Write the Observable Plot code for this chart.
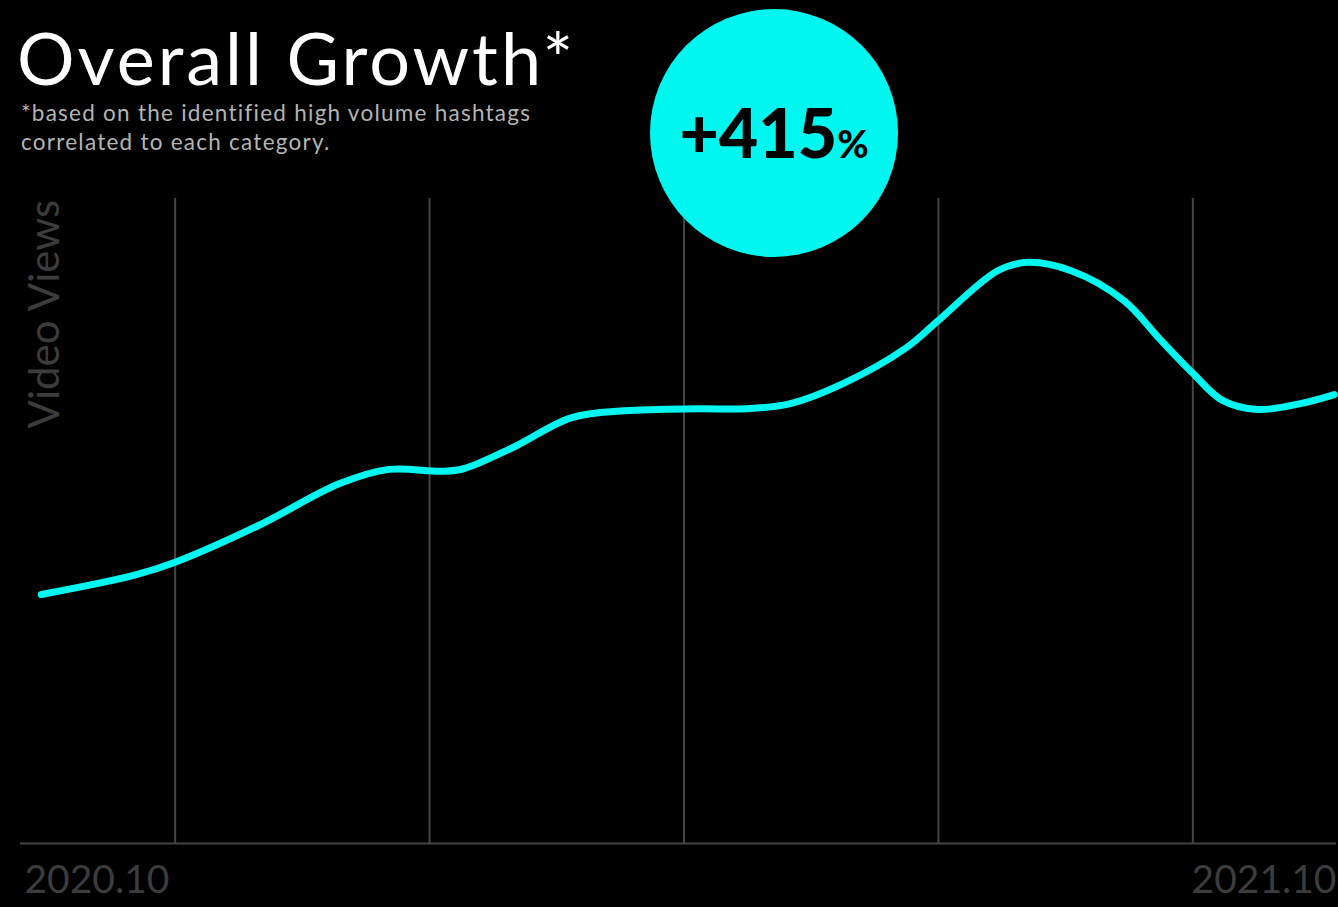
<!DOCTYPE html>
<html>
<head>
<meta charset="utf-8">
<script src="https://cdn.jsdelivr.net/npm/d3@7"></script>
<script src="https://cdn.jsdelivr.net/npm/@observablehq/plot@0.6"></script>
<style>
  html, body { margin: 0; padding: 0; background: #000; }
  #wrap { position: relative; width: 1338px; height: 907px; overflow: hidden; background: #000; font-family: Lato, "Open Sans", sans-serif; }
  #title { position: absolute; left: 17px; top: 22px; font-size: 72px; line-height: 71px; letter-spacing: 3px; color: #fff; white-space: nowrap; }
  #subtitle { position: absolute; left: 21px; top: 98px; font-size: 22.5px; line-height: 29px; letter-spacing: 1.25px; color: #b4b4b4; white-space: nowrap; }
  #badge { position: absolute; left: 650px; top: 9px; width: 248px; height: 248px; border-radius: 50%; background: #00f7ef; z-index: 2; }
  #badge-text { position: absolute; left: 0; width: 100%; top: 88px; text-align: center; color: #000; font-weight: 900; white-space: nowrap; line-height: 70px; }
  #badge-text .num { font-size: 68px; }
  #badge-text .pct { font-size: 38px; }
  #chart { position: absolute; left: 0; top: 198px; }
</style>
</head>
<body>
<div id="wrap">
  <div id="title">Overall Growth*</div>
  <div id="subtitle">*based on the identified high volume hashtags<br>correlated to each category.</div>
  <div id="badge"><div id="badge-text"><span class="num">+415</span><span class="pct">%</span></div></div>
  <div id="chart"></div>
</div>
<script>
// Months since 2020.10 and relative video-view index
const months = [0.19, 1.04, 1.41, 2.17, 2.91, 3.36, 3.84, 4.04, 4.49, 5.02, 5.51, 6.18, 6.62, 7.02, 7.50, 8.08, 8.37, 8.91, 9.18, 9.58, 10.06, 10.40, 10.69, 10.96, 11.28, 11.67, 11.98];
const views  = [38.6, 41.6, 43.6, 49.3, 55.8, 58.0, 57.7, 58.1, 61.4, 66.0, 67.1, 67.4, 67.4, 68.2, 71.3, 76.9, 81.1, 88.8, 90.1, 88.8, 84.2, 78.0, 72.9, 68.7, 67.3, 68.2, 69.6];
const gridMonths = [1.41, 3.73, 6.05, 8.37, 10.69];
const startLabel = "2020.10";
const endLabel = "2021.10";
const yLabel = "Video Views";

const data = months.map((m, i) => ({month: m, views: views[i]}));
const gridColor = "#444";
const labelColor = "#3c3c3c";

const chart = Plot.plot({
  width: 1338,
  height: 709,
  marginTop: 0,
  marginLeft: 20,
  marginRight: 2,
  marginBottom: 64,
  style: {background: "#000", fontFamily: "Lato, 'Open Sans', sans-serif", overflow: "visible"},
  x: {domain: [0, 12], axis: null},
  y: {domain: [0, 100], axis: null},
  marks: [
    Plot.ruleX(gridMonths, {stroke: gridColor, strokeWidth: 2}),
    Plot.ruleY([0], {stroke: gridColor, strokeWidth: 2}),
    Plot.line(data, {x: "month", y: "views", stroke: "#00f7ef", strokeWidth: 7, curve: "catmull-rom", strokeLinecap: "round", strokeLinejoin: "round"}),
    Plot.text([startLabel], {x: 0, y: 0, text: d => d, textAnchor: "start", lineAnchor: "bottom", dx: 4, dy: 49, fontSize: 39, fill: labelColor}),
    Plot.text([endLabel], {x: 12, y: 0, text: d => d, textAnchor: "end", lineAnchor: "bottom", dx: 0, dy: 49, fontSize: 39, fill: labelColor}),
    Plot.text([yLabel], {frameAnchor: "top-left", text: d => d, rotate: -90, textAnchor: "start", lineAnchor: "bottom", dx: 38, dy: 230, fontSize: 42, fill: labelColor})
  ]
});
document.getElementById("chart").appendChild(chart);
</script>
</body>
</html>
